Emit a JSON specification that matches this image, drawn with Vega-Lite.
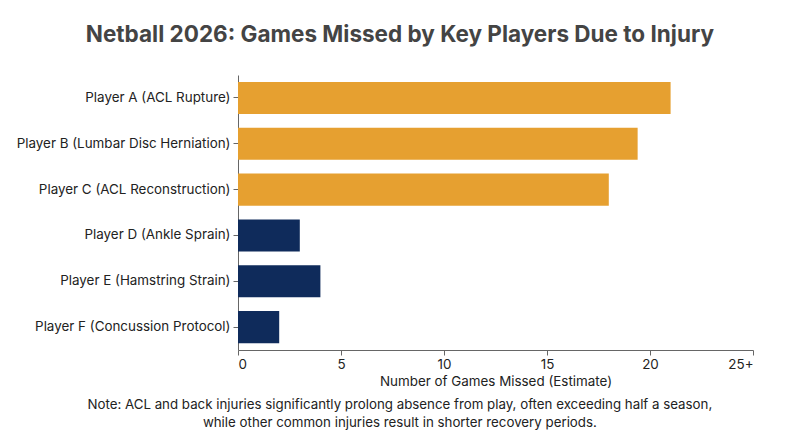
{
  "$schema": "https://vega.github.io/schema/vega-lite/v6.json",
  "padding": {"left": 16, "top": 23, "right": 5, "bottom": 5},
  "config": {
    "font": "Inter",
    "view": {"stroke": null},
    "axis": {"domainColor": "#666", "tickColor": "#666", "labelColor": "#222", "titleColor": "#222"}
  },
  "title": {
    "text": "Netball 2026: Games Missed by Key Players Due to Injury",
    "fontSize": 22.5,
    "fontWeight": "bold",
    "color": "#444444",
    "anchor": "middle",
    "dx": 15,
    "offset": 29
  },
  "vconcat": [
    {
      "width": 515,
      "height": 275,
      "title": {
        "text": [
          "Note: ACL and back injuries significantly prolong absence from play, often exceeding half a season,",
          "while other common injuries result in shorter recovery periods."
        ],
        "orient": "bottom",
        "anchor": "middle",
        "frame": "bounds",
        "dx": 15,
        "fontSize": 13.3,
        "fontWeight": "normal",
        "color": "#222222",
        "lineHeight": 18,
        "offset": 10
      },
      "data": {
        "values": [
          {"player": "Player A (ACL Rupture)", "games": 21, "duration": "Long-term"},
          {"player": "Player B (Lumbar Disc Herniation)", "games": 19.4, "duration": "Long-term"},
          {"player": "Player C (ACL Reconstruction)", "games": 18, "duration": "Long-term"},
          {"player": "Player D (Ankle Sprain)", "games": 3, "duration": "Short-term"},
          {"player": "Player E (Hamstring Strain)", "games": 4, "duration": "Short-term"},
          {"player": "Player F (Concussion Protocol)", "games": 2, "duration": "Short-term"}
        ]
      },
      "mark": {"type": "bar"},
      "encoding": {
        "y": {
          "field": "player",
          "type": "nominal",
          "sort": null,
          "scale": {"paddingInner": 0.3, "paddingOuter": 0.15},
          "axis": {"title": null, "labelFontSize": 13.4, "labelLimit": 0, "labelPadding": 3, "tickSize": 5, "domain": true}
        },
        "x": {
          "field": "games",
          "type": "quantitative",
          "scale": {"domain": [0, 25]},
          "axis": {
            "values": [0, 5, 10, 15, 20, 25],
            "labelExpr": "datum.value == 25 ? '25+' : datum.label",
            "grid": false,
            "labelFontSize": 13.4,
            "labelPadding": 2,
            "title": "Number of Games Missed (Estimate)",
            "titleFontSize": 13.4,
            "titleFontWeight": "normal",
            "titlePadding": 4
          }
        },
        "color": {
          "field": "duration",
          "type": "nominal",
          "scale": {"domain": ["Long-term", "Short-term"], "range": ["#E6A030", "#0F2B5B"]},
          "legend": null
        }
      }
    }
  ]
}
